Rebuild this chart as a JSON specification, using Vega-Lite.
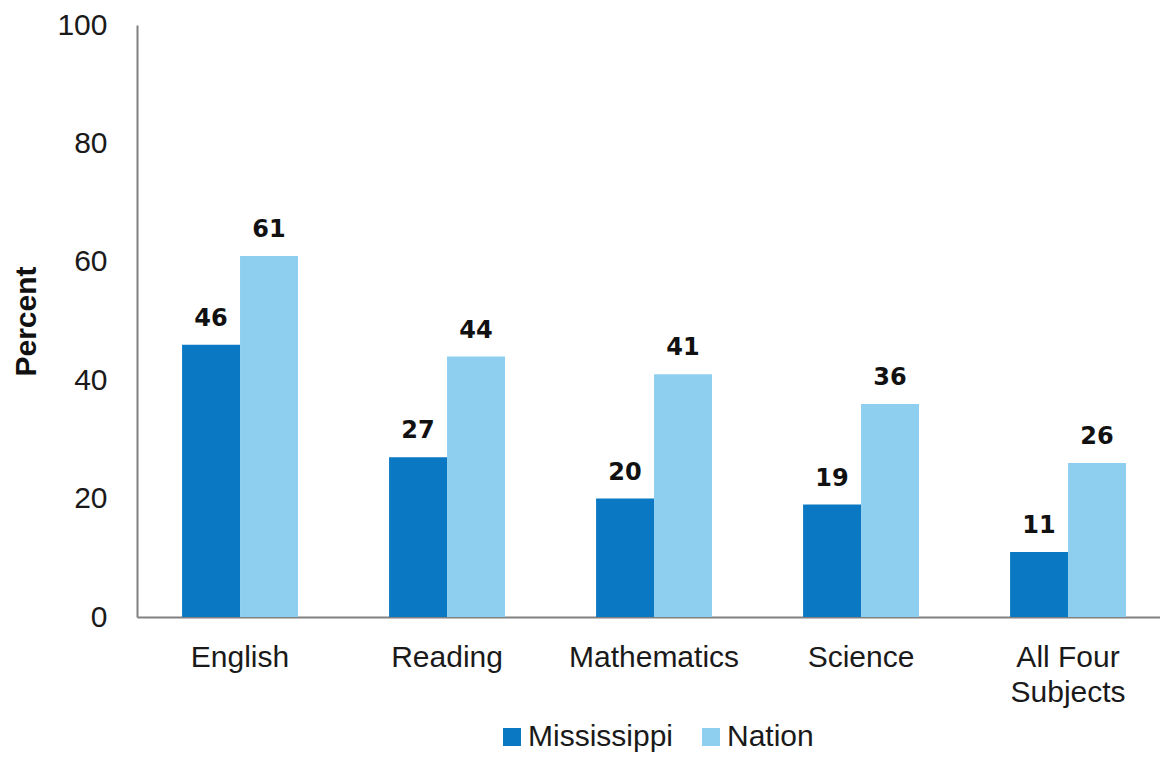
{
  "$schema": "https://vega.github.io/schema/vega-lite/v6.json",
  "width": 1023,
  "height": 592,
  "autosize": {"type": "none"},
  "padding": {"left": 137, "top": 25, "right": 0, "bottom": 140},
  "background": "white",
  "config": {"view": {"stroke": null}, "font": "Liberation Sans"},
  "data": {
    "values": [
      {"subject": "English", "group": "Mississippi", "value": 46},
      {"subject": "English", "group": "Nation", "value": 61},
      {"subject": "Reading", "group": "Mississippi", "value": 27},
      {"subject": "Reading", "group": "Nation", "value": 44},
      {"subject": "Mathematics", "group": "Mississippi", "value": 20},
      {"subject": "Mathematics", "group": "Nation", "value": 41},
      {"subject": "Science", "group": "Mississippi", "value": 19},
      {"subject": "Science", "group": "Nation", "value": 36},
      {"subject": "All Four Subjects", "group": "Mississippi", "value": 11},
      {"subject": "All Four Subjects", "group": "Nation", "value": 26}
    ]
  },
  "encoding": {
    "x": {
      "field": "subject",
      "type": "nominal",
      "sort": null,
      "scale": {"paddingInner": 0.44, "paddingOuter": 0.191, "align": 0.57},
      "axis": {
        "title": null,
        "labelAngle": 0,
        "labelFontSize": 30,
        "labelColor": "#1a1a1a",
        "labelPadding": 25,
        "labelLineHeight": 35,
        "labelBaseline": "top",
        "ticks": false,
        "domainColor": "#808080",
        "domainWidth": 2,
        "labelExpr": "datum.label == 'All Four Subjects' ? ['All Four', 'Subjects'] : datum.label"
      }
    },
    "xOffset": {"field": "group", "type": "nominal", "scale": {"paddingInner": 0, "paddingOuter": 0}},
    "y": {
      "field": "value",
      "type": "quantitative",
      "scale": {"domain": [0, 100], "nice": false},
      "axis": {
        "title": "Percent",
        "titleFontSize": 30,
        "titleFontWeight": "bold",
        "titleColor": "#111",
        "titlePadding": 15,
        "values": [0, 20, 40, 60, 80, 100],
        "labelFontSize": 30,
        "labelColor": "#1a1a1a",
        "labelPadding": 30,
        "ticks": false,
        "grid": false,
        "domainColor": "#808080",
        "domainWidth": 2
      }
    }
  },
  "layer": [
    {
      "mark": {"type": "bar"},
      "encoding": {
        "color": {
          "field": "group",
          "type": "nominal",
          "scale": {"domain": ["Mississippi", "Nation"], "range": ["#0a78c2", "#8ecff0"]},
          "legend": {
            "title": null,
            "orient": "none",
            "direction": "horizontal",
            "legendX": 360,
            "legendY": 697,
            "symbolType": "square",
            "symbolSize": 324,
            "symbolStrokeWidth": 0,
            "labelFontSize": 30,
            "labelColor": "#1a1a1a",
            "labelOffset": 1,
            "columnPadding": 22
          }
        }
      }
    },
    {
      "mark": {"type": "text", "baseline": "bottom", "dy": -14, "fontSize": 24, "font": "DejaVu Sans", "fontWeight": "bold", "color": "#111"},
      "encoding": {"text": {"field": "value", "type": "quantitative"}}
    }
  ]
}
